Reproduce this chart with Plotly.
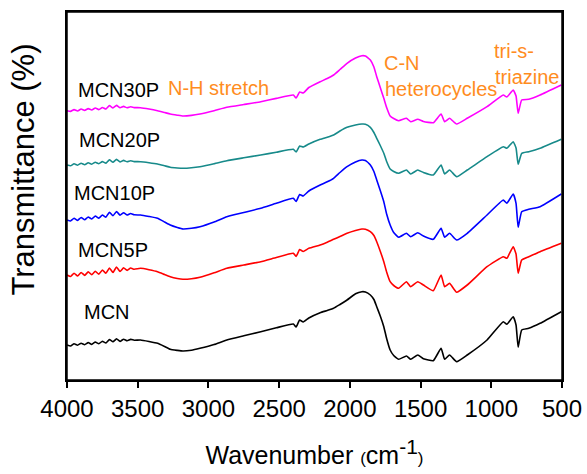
import plotly.graph_objects as go

wavenumber = [4000, 3975, 3950, 3925, 3900, 3875, 3850, 3825, 3800, 3775, 3750, 3725, 3700, 3675,
              3650, 3625, 3600, 3575, 3550, 3525,
              3480, 3420, 3360, 3310, 3270, 3220, 3180, 3120, 3060, 2960, 2870, 2750, 2630, 2520, 2400,
              2380, 2355, 2330, 2290, 2210, 2160, 2115, 2070, 2020, 1960, 1915, 1890, 1855, 1830,
              1810, 1785, 1760, 1740, 1715, 1690, 1655,
              1600, 1570, 1520, 1480, 1410, 1355, 1330, 1295, 1245, 1170, 1030,
              915, 890, 845, 825, 810, 785, 735, 655, 505]

mcn = [35, 34, 36.3, 34.8, 36.8, 35.3, 37.4, 35.6, 38, 36.2, 38.8, 37, 40.4, 38.2,
       41.2, 38.6, 40.8, 39.2, 40.6, 39.8,
       40, 38.5, 36.7, 33.5, 30.7, 29.6, 29, 29.8, 31.7, 35.5, 40, 44.2, 48.3, 52.2, 56,
       53, 60, 58, 62, 67.3, 69.5, 71.7, 75.5, 80, 86.2, 88.3, 88, 85, 80.5,
       73.3, 64, 53.3, 41.5, 30, 24.5, 20.7,
       24, 20.7, 25, 21.3, 19.3, 31.7, 20.7, 25, 18.3, 25, 40,
       58.3, 55.7, 63.3, 55, 32.7, 50, 51.7, 56.7, 68.3]

mcn5p = [105, 103.5, 106.8, 104, 107.5, 104.6, 108.2, 105.2, 108.8, 105.8, 110, 106.8, 112, 107.5,
         113, 108.5, 112.2, 109.6, 112, 110.8,
         111.7, 110.3, 108.3, 105.5, 103.3, 101.5, 100.7, 101.2, 102.7, 107.2, 111.7, 115, 118.3, 122.5, 126.7,
         123.5, 130.5, 128.5, 131.7, 135, 137.8, 140.7, 143.5, 146.7, 149.5, 151, 150.8, 148.3, 144.5,
         138.3, 128.8, 118.3, 108, 98.3, 94.5, 91.7,
         98.3, 93.3, 98.3, 95, 89.3, 105, 93.3, 96.7, 87.7, 95, 113.3,
         123.3, 121.7, 133.3, 126, 106.7, 120, 123.3, 128.3, 136.7]

mcn10p = [160, 159, 161.8, 159.6, 162.5, 160.2, 163, 161, 164, 161.8, 165, 162.8, 167.8, 164.2,
          168.5, 164.8, 167.2, 165, 166.5, 165.2,
          165, 163.5, 161.7, 158, 155, 152.5, 151, 151.7, 153.3, 158, 163.3, 167.5, 171.7, 176.7, 181.7,
          178.5, 185.5, 184, 189, 195, 198.2, 201.7, 207.5, 213.3, 218, 220, 219.5, 215, 208.5,
          200, 189.5, 178.3, 166, 155, 147.5, 142.7,
          146.7, 143.3, 147.3, 144, 140.7, 151.7, 142.7, 146.7, 140, 146.7, 165,
          180, 176.7, 186, 176.7, 152.7, 168.3, 170.7, 173.3, 186]

mcn20p = [215, 214.2, 216.2, 214.8, 216.8, 215.3, 217.2, 215.8, 217.8, 216.3, 218.4, 216.8, 220.2, 217.8,
          220.6, 218, 219.6, 218.2, 219.2, 218.4,
          218.3, 217.3, 216, 214.2, 212.7, 212, 211.7, 212.2, 213.3, 216.2, 219.3, 222.2, 225, 227.8, 230.7,
          228, 234, 233, 236, 240.7, 242.8, 245, 249, 252.7, 255, 256, 255.8, 252.7, 247.5,
          241.7, 234.5, 226.7, 218.5, 211, 208.5, 206.7,
          210, 206, 210, 207.5, 205, 215, 206, 210, 203.3, 210, 223.3,
          233.3, 231.7, 238.3, 232, 215.7, 226.7, 228.3, 231.7, 240.7]

mcn30p = [269.3, 268.6, 270.4, 269, 271, 269.6, 271.4, 270, 272, 270.4, 272.5, 271, 274.4, 272,
          274.6, 272.2, 273.6, 272.2, 273.2, 272.4,
          272.3, 271, 269.3, 267.5, 266, 264.8, 264, 264.6, 266, 269.3, 272.7, 275.5, 278.3, 281.6, 285,
          282, 288, 287, 292.5, 298.3, 301.5, 305, 310.5, 316.7, 322, 324.3, 324, 320, 313,
          303.3, 292.5, 281.7, 272.5, 264, 261.5, 259.3,
          261.7, 258.3, 260.7, 258.5, 257.3, 266, 258.3, 261.7, 256, 261.7, 273.3,
          285, 283, 290, 284, 266.7, 280, 280.7, 285, 295]

series_names = ["MCN", "MCN5P", "MCN10P", "MCN20P", "MCN30P"]
series_values = [mcn, mcn5p, mcn10p, mcn20p, mcn30p]
series_colors = ["#000000", "#FF0000", "#0000FF", "#178A8A", "#FF00FF"]

x_ticks = [4000, 3500, 3000, 2500, 2000, 1500, 1000, 500]

FONT = "Liberation Sans, Arial, sans-serif"
ORANGE = "#FF8C1E"

fig = go.Figure()
for name, vals, col in zip(series_names, series_values, series_colors):
    fig.add_trace(go.Scatter(x=wavenumber, y=vals, mode="lines", name=name,
                             line=dict(color=col, width=1.6, shape="spline", smoothing=0.4),
                             showlegend=False))

labels = [
    ("MCN30P", 0.019, 0.788, "black"),
    ("MCN20P", 0.021, 0.652, "black"),
    ("MCN10P", 0.011, 0.507, "black"),
    ("MCN5P", 0.018, 0.353, "black"),
    ("MCN", 0.030, 0.186, "black"),
    ("N-H stretch", 0.199, 0.793, ORANGE),
    ("C-N", 0.636, 0.861, ORANGE),
    ("heterocycles", 0.638, 0.790, ORANGE),
    ("tri-s-", 0.858, 0.894, ORANGE),
    ("triazine", 0.860, 0.823, ORANGE),
]
for txt, xp, yp, col in labels:
    fig.add_annotation(text=txt, x=xp, y=yp, xref="paper", yref="paper",
                       xanchor="left", yanchor="middle", showarrow=False,
                       font=dict(family=FONT, size=20, color=col))

fig.add_annotation(text="Transmittance (%)", x=-0.088, y=0.573, xref="paper", yref="paper",
                   xanchor="center", yanchor="middle", textangle=-90, showarrow=False,
                   font=dict(family=FONT, size=31, color="black"))

fig.add_shape(type="rect", xref="paper", yref="paper", x0=0, x1=1, y0=0, y1=1,
              line=dict(color="black", width=1.5), layer="above")

x_title = ("Wavenumber <span style='font-size:17px'>(</span>cm"
           "<sup><span style='font-size:21px'>-1</span></sup>"
           "<span style='font-size:17px'>)</span>")

fig.update_layout(
    width=587, height=474,
    margin=dict(l=67, r=25, t=12, b=94),
    paper_bgcolor="white", plot_bgcolor="white",
    font=dict(family=FONT, color="black"),
    xaxis=dict(range=[4000, 500], tickvals=x_ticks, ticktext=[str(t) for t in x_ticks],
               ticks="outside", ticklen=6, tickwidth=1.5, tickcolor="black",
               showline=True, linecolor="black", linewidth=1.5, mirror=True,
               showgrid=False, zeroline=False, automargin=False,
               tickfont=dict(family=FONT, size=24, color="black"),
               title=dict(text=x_title,
                          font=dict(family=FONT, size=25, color="black"), standoff=26)),
    yaxis=dict(range=[0, 368], showticklabels=False, ticks="", automargin=False,
               showline=True, linecolor="black", linewidth=1.5, mirror=True,
               showgrid=False, zeroline=False),
)

fig.write_html("out.html", config={"displayModeBar": False},
               post_script="document.body.style.margin='0';document.body.style.overflow='hidden';")
